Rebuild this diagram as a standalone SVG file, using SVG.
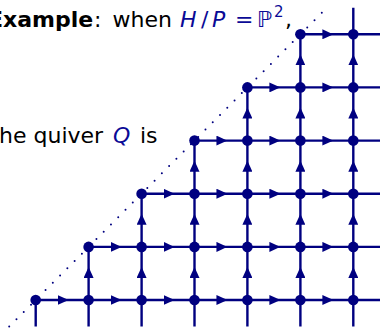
<svg xmlns="http://www.w3.org/2000/svg" width="380" height="328" viewBox="0 0 380 328">
<style>
.t{font-family:"DejaVu Sans",sans-serif;font-size:22px;fill:#000}
.b{font-weight:bold}
.m{font-family:"DejaVu Sans",sans-serif;font-size:22px;fill:#0a0a96}
.i{font-style:italic}
.e{fill:none;stroke:#000080;stroke-width:2.4;marker-mid:url(#ah)}
.x{fill:none;stroke:#000080;stroke-width:2.4}
.d{fill:none;stroke:#000080;stroke-width:2;stroke-linecap:round;stroke-dasharray:0 10.3}
.n{fill:#000080}
</style>
<defs>
<marker id="ah" viewBox="0 0 11 10" refX="4.5" refY="5" markerWidth="11" markerHeight="10" markerUnits="userSpaceOnUse" orient="auto">
<path d="M0,0 L11,5 L0,10 Z" fill="#000080"/>
</marker>
</defs>
<g id="labels">
<text class="t b" x="-12" y="27">Example</text>
<text class="t" x="94" y="27">:</text>
<text class="t" x="112.5" y="27">when</text>
<text class="m i" x="180" y="27">H</text>
<text class="m" x="201" y="27">/</text>
<text class="m i" x="212" y="27">P</text>
<text class="m" x="235" y="27">=</text>
<text class="m" x="257" y="27">ℙ</text>
<text class="m" x="274" y="17" style="font-size:15px">2</text>
<text class="t" x="285" y="27">,</text>
<text class="t" x="-1" y="143">he quiver</text>
<text class="m i" x="113" y="143">Q</text>
<text class="t" x="140" y="143">is</text>
</g>
<g id="connectors">
<path class="d" d="M9.2,326.6 L326.9,7.7"/>
<path class="x" d="M353.3,300 H380 M353.3,246.9 H380 M353.3,193.7 H380 M353.3,140.6 H380 M353.3,87.4 H380 M353.3,34.3 H380 M353.3,34.3 V7.7 M35.7,300 V326.6 M88.6,300 V326.6 M141.6,300 V326.6 M194.5,300 V326.6 M247.4,300 V326.6 M300.4,300 V326.6 M353.3,300 V326.6"/>
<path class="e" d="M35.7,300 L62.15,300 L88.6,300"/>
<path class="e" d="M88.6,300 L115.1,300 L141.6,300"/>
<path class="e" d="M141.6,300 L168.05,300 L194.5,300"/>
<path class="e" d="M194.5,300 L220.95,300 L247.4,300"/>
<path class="e" d="M247.4,300 L273.9,300 L300.4,300"/>
<path class="e" d="M300.4,300 L326.85,300 L353.3,300"/>
<path class="e" d="M88.6,246.9 L115.1,246.9 L141.6,246.9"/>
<path class="e" d="M141.6,246.9 L168.05,246.9 L194.5,246.9"/>
<path class="e" d="M194.5,246.9 L220.95,246.9 L247.4,246.9"/>
<path class="e" d="M247.4,246.9 L273.9,246.9 L300.4,246.9"/>
<path class="e" d="M300.4,246.9 L326.85,246.9 L353.3,246.9"/>
<path class="e" d="M141.6,193.7 L168.05,193.7 L194.5,193.7"/>
<path class="e" d="M194.5,193.7 L220.95,193.7 L247.4,193.7"/>
<path class="e" d="M247.4,193.7 L273.9,193.7 L300.4,193.7"/>
<path class="e" d="M300.4,193.7 L326.85,193.7 L353.3,193.7"/>
<path class="e" d="M194.5,140.6 L220.95,140.6 L247.4,140.6"/>
<path class="e" d="M247.4,140.6 L273.9,140.6 L300.4,140.6"/>
<path class="e" d="M300.4,140.6 L326.85,140.6 L353.3,140.6"/>
<path class="e" d="M247.4,87.4 L273.9,87.4 L300.4,87.4"/>
<path class="e" d="M300.4,87.4 L326.85,87.4 L353.3,87.4"/>
<path class="e" d="M300.4,34.3 L326.85,34.3 L353.3,34.3"/>
<path class="e" d="M88.6,300 L88.6,273.45 L88.6,246.9"/>
<path class="e" d="M141.6,300 L141.6,273.45 L141.6,246.9"/>
<path class="e" d="M141.6,246.9 L141.6,220.3 L141.6,193.7"/>
<path class="e" d="M194.5,300 L194.5,273.45 L194.5,246.9"/>
<path class="e" d="M194.5,246.9 L194.5,220.3 L194.5,193.7"/>
<path class="e" d="M194.5,193.7 L194.5,167.15 L194.5,140.6"/>
<path class="e" d="M247.4,300 L247.4,273.45 L247.4,246.9"/>
<path class="e" d="M247.4,246.9 L247.4,220.3 L247.4,193.7"/>
<path class="e" d="M247.4,193.7 L247.4,167.15 L247.4,140.6"/>
<path class="e" d="M247.4,140.6 L247.4,114 L247.4,87.4"/>
<path class="e" d="M300.4,300 L300.4,273.45 L300.4,246.9"/>
<path class="e" d="M300.4,246.9 L300.4,220.3 L300.4,193.7"/>
<path class="e" d="M300.4,193.7 L300.4,167.15 L300.4,140.6"/>
<path class="e" d="M300.4,140.6 L300.4,114 L300.4,87.4"/>
<path class="e" d="M300.4,87.4 L300.4,60.85 L300.4,34.3"/>
<path class="e" d="M353.3,300 L353.3,273.45 L353.3,246.9"/>
<path class="e" d="M353.3,246.9 L353.3,220.3 L353.3,193.7"/>
<path class="e" d="M353.3,193.7 L353.3,167.15 L353.3,140.6"/>
<path class="e" d="M353.3,140.6 L353.3,114 L353.3,87.4"/>
<path class="e" d="M353.3,87.4 L353.3,60.85 L353.3,34.3"/>
</g>
<g id="n00"><circle class="n" cx="35.7" cy="300" r="5.3"/></g>
<g id="n01"><circle class="n" cx="88.6" cy="300" r="5.3"/></g>
<g id="n02"><circle class="n" cx="141.6" cy="300" r="5.3"/></g>
<g id="n03"><circle class="n" cx="194.5" cy="300" r="5.3"/></g>
<g id="n04"><circle class="n" cx="247.4" cy="300" r="5.3"/></g>
<g id="n05"><circle class="n" cx="300.4" cy="300" r="5.3"/></g>
<g id="n06"><circle class="n" cx="353.3" cy="300" r="5.3"/></g>
<g id="n11"><circle class="n" cx="88.6" cy="246.9" r="5.3"/></g>
<g id="n12"><circle class="n" cx="141.6" cy="246.9" r="5.3"/></g>
<g id="n13"><circle class="n" cx="194.5" cy="246.9" r="5.3"/></g>
<g id="n14"><circle class="n" cx="247.4" cy="246.9" r="5.3"/></g>
<g id="n15"><circle class="n" cx="300.4" cy="246.9" r="5.3"/></g>
<g id="n16"><circle class="n" cx="353.3" cy="246.9" r="5.3"/></g>
<g id="n22"><circle class="n" cx="141.6" cy="193.7" r="5.3"/></g>
<g id="n23"><circle class="n" cx="194.5" cy="193.7" r="5.3"/></g>
<g id="n24"><circle class="n" cx="247.4" cy="193.7" r="5.3"/></g>
<g id="n25"><circle class="n" cx="300.4" cy="193.7" r="5.3"/></g>
<g id="n26"><circle class="n" cx="353.3" cy="193.7" r="5.3"/></g>
<g id="n33"><circle class="n" cx="194.5" cy="140.6" r="5.3"/></g>
<g id="n34"><circle class="n" cx="247.4" cy="140.6" r="5.3"/></g>
<g id="n35"><circle class="n" cx="300.4" cy="140.6" r="5.3"/></g>
<g id="n36"><circle class="n" cx="353.3" cy="140.6" r="5.3"/></g>
<g id="n44"><circle class="n" cx="247.4" cy="87.4" r="5.3"/></g>
<g id="n45"><circle class="n" cx="300.4" cy="87.4" r="5.3"/></g>
<g id="n46"><circle class="n" cx="353.3" cy="87.4" r="5.3"/></g>
<g id="n55"><circle class="n" cx="300.4" cy="34.3" r="5.3"/></g>
<g id="n56"><circle class="n" cx="353.3" cy="34.3" r="5.3"/></g>
</svg>
